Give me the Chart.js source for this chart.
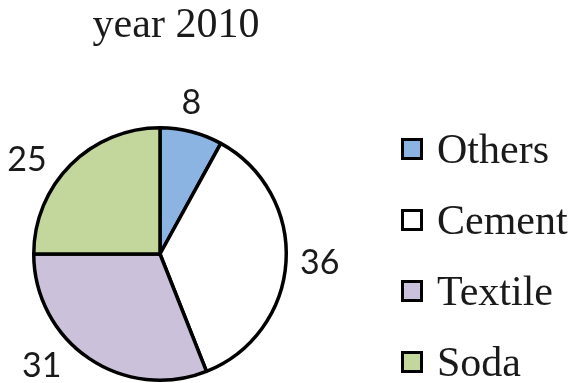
<!DOCTYPE html>
<html>
<head>
<meta charset="utf-8">
<title>year 2010</title>
<script src="https://cdn.jsdelivr.net/npm/chart.js@4/dist/chart.umd.min.js"></script>
<style>
  html, body { margin: 0; padding: 0; background: #fff; }
  #wrap { width: 576px; height: 383px; }
</style>
</head>
<body>
<div id="wrap"><canvas id="pie" width="576" height="383"></canvas></div>
<script>
// ── Data ──────────────────────────────────────────────
var chartTitle = 'year 2010';
var sectors = ['Others', 'Cement', 'Textile', 'Soda'];
var shares = [8, 36, 31, 25];
var fills = ['#8cb4e2', '#ffffff', '#ccc1da', '#c3d69b'];

var serif = '"Liberation Serif", "Times New Roman", serif';
var sans = 'Lato, "Open Sans", sans-serif';
var ink = '#1a1a1a';

// ── Title drawn over the pie ──────────────────────────
var titlePlugin = {
  id: 'pieTitle',
  afterDraw: function (chart) {
    var ctx = chart.ctx;
    ctx.save();
    ctx.font = '42px ' + serif;
    ctx.fillStyle = ink;
    ctx.textAlign = 'center';
    ctx.textBaseline = 'alphabetic';
    ctx.fillText(chartTitle, 176, 37);
    ctx.restore();
  }
};

// ── Value labels just outside each slice ─────────────
var valuePlugin = {
  id: 'outsideValues',
  afterDatasetsDraw: function (chart) {
    var ctx = chart.ctx;
    var meta = chart.getDatasetMeta(0);
    var values = chart.data.datasets[0].data;
    var h = 24;
    ctx.save();
    ctx.font = '34px ' + sans;
    ctx.fillStyle = ink;
    ctx.textAlign = 'center';
    ctx.textBaseline = 'middle';
    meta.data.forEach(function (arc, i) {
      var txt = String(values[i]);
      var w = ctx.measureText(txt).width;
      var mid = (arc.startAngle + arc.endAngle) / 2;
      var ux = Math.cos(mid), uy = Math.sin(mid);
      var px = arc.x + arc.outerRadius * ux;
      var py = arc.y + arc.outerRadius * uy;
      var x, y;
      if (Math.abs(ux) > 0.5) {
        // side labels sit left/right of the rim, further out near the diagonals
        var gap = 14 + 20 * uy * uy;
        x = px + Math.sign(ux) * (gap + w / 2);
        y = py + uy * 8;
      } else {
        x = px;
        y = py + Math.sign(uy) * (18 + h / 2);
      }
      y = Math.min(Math.max(y, h / 2 + 2), chart.height - h / 2 - 2);
      ctx.fillText(txt, x, y + 1);
    });
    ctx.restore();
  }
};

// ── Legend with boxed swatches ───────────────────────
var legendPlugin = {
  id: 'boxLegend',
  afterDraw: function (chart) {
    var ctx = chart.ctx;
    var ds = chart.data.datasets[0];
    var left = 401, top = 149, pitch = 71, box = 22;
    ctx.save();
    ctx.font = '42px ' + serif;
    ctx.textAlign = 'left';
    ctx.textBaseline = 'alphabetic';
    chart.data.labels.forEach(function (label, i) {
      var cy = top + i * pitch;
      ctx.fillStyle = ds.backgroundColor[i];
      ctx.fillRect(left, cy - box / 2, box, box);
      ctx.lineWidth = 3;
      ctx.strokeStyle = '#000';
      ctx.strokeRect(left + 1.5, cy - box / 2 + 1.5, box - 3, box - 3);
      ctx.fillStyle = ink;
      ctx.fillText(label, left + 36, cy + 14);
    });
    ctx.restore();
  }
};

new Chart(document.getElementById('pie'), {
  type: 'pie',
  data: {
    labels: sectors,
    datasets: [{
      data: shares,
      backgroundColor: fills,
      borderColor: '#000',
      borderWidth: 3.5
    }]
  },
  options: {
    responsive: false,
    animation: false,
    layout: { padding: { left: 32, right: 288, top: 126, bottom: 1 } },
    plugins: {
      legend: { display: false },
      tooltip: { enabled: false },
      title: { display: false }
    }
  },
  plugins: [titlePlugin, valuePlugin, legendPlugin]
});
</script>
</body>
</html>
